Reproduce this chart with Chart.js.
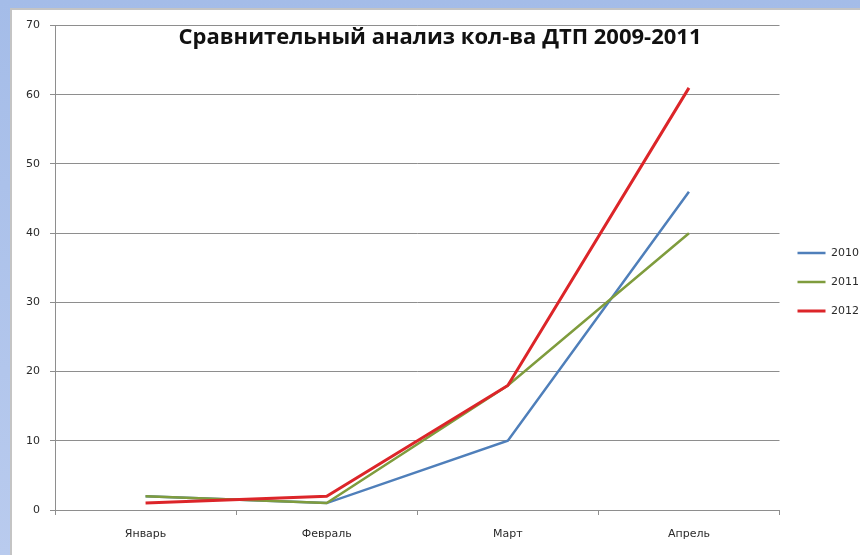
<!DOCTYPE html>
<html>
<head>
<meta charset="utf-8">
<script src="https://cdn.jsdelivr.net/npm/chart.js@4"></script>
<style>
    html, body { margin: 0; padding: 0; }
    body {
        width: 860px; height: 555px; overflow: hidden; position: relative;
        background: linear-gradient(to bottom, #a4bce8, #b9cbee);
    }
    #panel {
        position: absolute; left: 10px; top: 8px; width: 860px; height: 560px;
        background: #fff; border-left: 2px solid #c4c4c4; border-top: 2px solid #c4c4c4;
    }
    #wrap { position: absolute; left: 12px; top: 9px; width: 857px; height: 546px; }
</style>
</head>
<body>
<div id="panel"></div>
<div id="wrap"><canvas id="dtpChart"></canvas></div>
<script>
// data
const months = ["Январь", "Февраль", "Март", "Апрель"];
const years = ["2010", "2011", "2012"];
const values2010 = [2, 1, 10, 46];
const values2011 = [2, 1, 18, 40];
const values2012 = [1, 2, 18, 61];
const yTicks = [0, 10, 20, 30, 40, 50, 60, 70];
const chartTitle = "Сравнительный анализ кол-ва ДТП 2009-2011";

const gridGrey = "#8e8e8e";

// title sits over the plot area like in Excel, so draw it by hand
const titlePlugin = {
    id: "overTitle",
    afterDraw(chart) {
        const ctx = chart.ctx;
        ctx.save();
        ctx.font = "bold 22px 'Open Sans'";
        ctx.fillStyle = "#111";
        ctx.textAlign = "center";
        ctx.textBaseline = "middle";
        ctx.fillText(chartTitle, 428, 29);
        ctx.restore();
    }
};

document.addEventListener("DOMContentLoaded", () => {
    initializeChart();
});

function initializeChart() {
    new Chart(document.getElementById("dtpChart"), {
        type: "line",
        data: {
            labels: months,
            datasets: [{
                label: years[0],
                data: values2010,
                borderColor: "#4f7fba",
                borderWidth: 2.5,
                order: 2
            }, {
                label: years[1],
                data: values2011,
                borderColor: "#7f9c3d",
                borderWidth: 2.5,
                order: 1
            }, {
                label: years[2],
                data: values2012,
                borderColor: "#dc2529",
                borderWidth: 3,
                order: 0
            }]
        },
        options: {
            responsive: true,
            maintainAspectRatio: false,
            animation: false,
            layout: { padding: { top: 15, left: 0, right: 0, bottom: 15 } },
            elements: {
                line: { tension: 0, fill: false },
                point: { radius: 0, hoverRadius: 0 }
            },
            scales: {
                x: {
                    offset: true,
                    grid: {
                        offset: true,
                        drawOnChartArea: false,
                        drawTicks: true,
                        tickLength: 5,
                        color: gridGrey
                    },
                    border: { display: true, color: gridGrey, width: 1 },
                    ticks: {
                        padding: 13,
                        color: "#2a2a2a",
                        font: { family: "DejaVu Sans", size: 11 }
                    },
                    afterFit(scale) { scale.height = 30; }
                },
                y: {
                    min: 0,
                    max: 70,
                    afterBuildTicks(scale) {
                        scale.ticks = yTicks.map(v => ({ value: v }));
                    },
                    grid: {
                        color: gridGrey,
                        tickLength: 5,
                        drawTicks: true
                    },
                    border: { display: true, color: gridGrey, width: 1 },
                    ticks: {
                        padding: 10,
                        color: "#2a2a2a",
                        font: { family: "DejaVu Sans", size: 11 }
                    },
                    afterFit(scale) { scale.width = 43; }
                }
            },
            plugins: {
                title: { display: false },
                tooltip: { enabled: false },
                legend: {
                    position: "right",
                    align: "center",
                    labels: {
                        usePointStyle: true,
                        pointStyle: "line",
                        pointStyleWidth: 28,
                        padding: 18,
                        color: "#2a2a2a",
                        font: { family: "DejaVu Sans", size: 11 },
                        sort: (a, b) => a.datasetIndex - b.datasetIndex
                    }
                }
            }
        },
        plugins: [titlePlugin]
    });
}
</script>
</body>
</html>
